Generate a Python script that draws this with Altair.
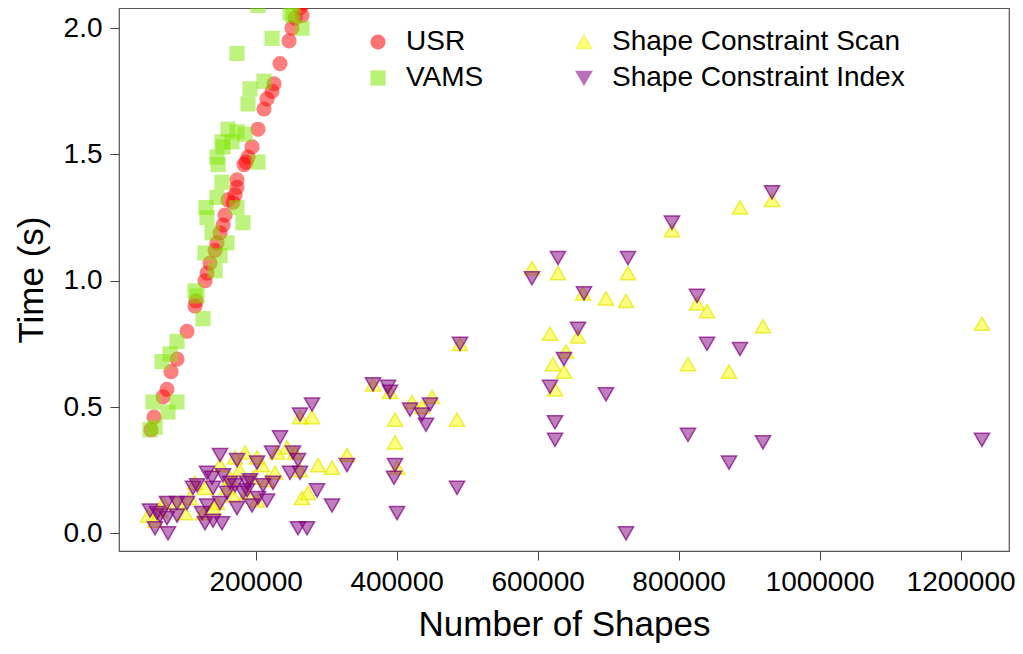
import altair as alt
import pandas as pd

series_names = ["USR", "VAMS", "Shape Constraint Scan", "Shape Constraint Index"]

usr_x = [51600, 55900, 68700, 74300, 80000, 88500, 102700, 114000, 115500, 128200,
         131100, 135300, 142400, 145200, 149500, 153800, 156600, 160800, 167900, 170800,
         173600, 173600, 183500, 186400, 189200, 194900, 203400, 211900, 216200, 223300,
         226100, 234600, 247400, 251600, 255900, 265800, 263000, 268600]
usr_y = [0.41, 0.46, 0.54, 0.57, 0.64, 0.69, 0.80, 0.90, 0.92, 1.00,
         1.03, 1.07, 1.12, 1.15, 1.19, 1.22, 1.26, 1.32, 1.31, 1.34,
         1.37, 1.40, 1.46, 1.47, 1.49, 1.53, 1.60, 1.68, 1.72, 1.75,
         1.78, 1.86, 1.95, 2.00, 2.04, 2.05, 2.08, 2.10]

vams_x = [50200, 57300, 54500, 75700, 88500, 67200, 78600, 88500, 125400, 114000,
          116900, 142400, 128200, 149500, 159400, 138200, 182100, 173600, 129600, 131100,
          145200, 152300, 146700, 145200, 203400, 153800, 152300, 166500, 160800, 173600,
          185000, 189200, 192100, 211900, 173600, 223300, 265800, 248800, 253000, 203400]
vams_y = [0.41, 0.42, 0.52, 0.48, 0.52, 0.68, 0.71, 0.76, 0.85, 0.96,
          0.94, 1.04, 1.11, 1.10, 1.15, 1.19, 1.23, 1.29, 1.29, 1.25,
          1.33, 1.39, 1.46, 1.49, 1.47, 1.53, 1.55, 1.55, 1.60, 1.59,
          1.58, 1.70, 1.76, 1.79, 1.90, 1.96, 2.00, 2.06, 2.05, 2.09]

scan_x = [1230300, 932500, 887100, 790600, 826100, 840300, 919700, 813300, 871500, 592000,
          628900, 728200, 664400, 697000, 725400, 617600, 657300, 640300, 621800, 637400,
          624700,
          489900, 366500, 390600, 421800, 450200, 436000, 397700, 485700, 397700, 329600,
          400600,
          280000, 263000, 263000, 255900, 244500, 230300, 185000, 202000, 170800, 149500,
          227500, 216200, 163700, 128200, 159400, 167900, 288500, 308400, 265800, 274300,
          114000, 106900, 88500, 68700, 47400, 64400, 145200, 187800, 196300, 202000,
          125400, 139600, 57300, 99900, 177000, 209100]
scan_y = [0.83, 1.32, 1.29, 1.20, 0.91, 0.88, 0.82, 0.67, 0.64, 1.05,
          1.03, 1.03, 0.95, 0.93, 0.92, 0.79, 0.78, 0.72, 0.67, 0.64,
          0.57,
          0.75, 0.59, 0.56, 0.52, 0.54, 0.50, 0.45, 0.45, 0.36, 0.31,
          0.26,
          0.46, 0.46, 0.25, 0.32, 0.34, 0.32, 0.32, 0.30, 0.30, 0.27,
          0.24, 0.21, 0.22, 0.18, 0.18, 0.15, 0.27, 0.26, 0.14, 0.16,
          0.20, 0.14, 0.12, 0.12, 0.07, 0.09, 0.12, 0.16, 0.22, 0.13,
          0.08, 0.10, 0.05, 0.08, 0.25, 0.27]

idx_x = [1230300, 932500, 790600, 826100, 840300, 887100, 813300, 919700, 871500, 628900,
         728200, 592000, 665800, 657300, 637400, 617600, 697000, 624700, 624700, 725400,
         489900, 366500, 387800, 390600, 419000, 447400, 436000, 441700, 329600, 397700,
         396300, 485700, 400600,
         280000, 263000, 234600, 223300, 253000, 260100, 248800, 263000, 149500, 173600,
         202000, 131100, 138200, 153800, 163700, 187800, 116900, 111200, 139600, 159400,
         187800, 210500, 224700, 194900, 216200, 173600, 149500, 131100, 102700, 88500,
         74300, 50200, 60100, 74300, 88500, 57300, 75700, 128200, 139600, 152300,
         287100, 260100, 272900, 308400, 203400, 182100, 170800, 192100, 124000, 64400]
idx_y = [0.37, 1.35, 1.23, 0.94, 0.75, 0.73, 0.39, 0.36, 0.28, 1.09,
         1.09, 1.01, 0.95, 0.81, 0.69, 0.58, 0.55, 0.44, 0.37, 0.00,
         0.75, 0.59, 0.58, 0.56, 0.49, 0.51, 0.47, 0.43, 0.27, 0.27,
         0.22, 0.18, 0.08,
         0.51, 0.47, 0.38, 0.32, 0.32, 0.29, 0.24, 0.24, 0.31, 0.29,
         0.28, 0.24, 0.22, 0.23, 0.20, 0.20, 0.19, 0.18, 0.18, 0.16,
         0.17, 0.19, 0.20, 0.11, 0.13, 0.10, 0.12, 0.11, 0.12, 0.12,
         0.12, 0.09, 0.08, 0.06, 0.07, 0.02, 0.00, 0.04, 0.05, 0.04,
         0.17, 0.02, 0.02, 0.11, 0.14, 0.16, 0.19, 0.21, 0.08, 0.07]

x_ticks = [200000, 400000, 600000, 800000, 1000000, 1200000]
y_ticks = [0.0, 0.5, 1.0, 1.5, 2.0]

rows = []
for name, xs, ys in zip(series_names, [usr_x, vams_x, scan_x, idx_x], [usr_y, vams_y, scan_y, idx_y]):
    assert len(xs) == len(ys), name
    for xv, yv in zip(xs, ys):
        rows.append({"series": name, "shapes": xv, "time": yv})
df = pd.DataFrame(rows)

FONT = "Liberation Sans"

fill_colors = ["#FF0000", "#7FE800", "#FFFF00", "#800080"]
stroke_colors = ["rgba(0,0,0,0)", "rgba(0,0,0,0)", "#E6E600", "#800080"]
shapes = ["circle", "square", "triangle-up", "triangle-down"]

legend = alt.Legend(
    title=None, orient="none", legendX=245, legendY=20, columns=2,
    columnPadding=86, rowPadding=8, symbolSize=230, labelFontSize=28,
    labelFont=FONT, labelColor="black", labelOffset=14, padding=0,
    labelLimit=0, symbolStrokeWidth=1.5, symbolOpacity=0.55,
)

chart = alt.Chart(df).mark_point(
    filled=True, size=230, fillOpacity=0.5, strokeOpacity=0.7, strokeWidth=1.5, clip=True
).encode(
    x=alt.X("shapes:Q", title="Number of Shapes",
            scale=alt.Scale(domain=[6200, 1268700], nice=False, zero=False),
            axis=alt.Axis(values=x_ticks, format="d")),
    y=alt.Y("time:Q", title="Time (s)",
            scale=alt.Scale(domain=[-0.07, 2.08], nice=False, zero=False),
            axis=alt.Axis(values=y_ticks, format=".1f")),
    fill=alt.Fill("series:N", scale=alt.Scale(domain=series_names, range=fill_colors), legend=legend),
    stroke=alt.Stroke("series:N", scale=alt.Scale(domain=series_names, range=stroke_colors), legend=legend),
    shape=alt.Shape("series:N", scale=alt.Scale(domain=series_names, range=shapes), legend=legend),
).properties(
    width=890, height=543,
    autosize=alt.AutoSizeParams(type="none"),
    padding={"left": 111, "top": 0, "right": 6, "bottom": 93},
).configure_view(
    stroke="#555555", strokeWidth=1.2
).configure_axis(
    grid=False, domain=False, tickColor="#444444", tickSize=9, tickWidth=1,
    labelFont=FONT, labelFontSize=28, labelColor="black",
    titleFont=FONT, titleFontSize=35, titleFontWeight="normal", titleColor="black",
).configure_axisX(
    labelPadding=8, titleBaseline="alphabetic", titleY=84,
).configure_axisY(
    labelPadding=8, titleX=-88, titleBaseline="middle",
)

chart.save("out.html", embed_options={"renderer": "svg", "actions": False})
